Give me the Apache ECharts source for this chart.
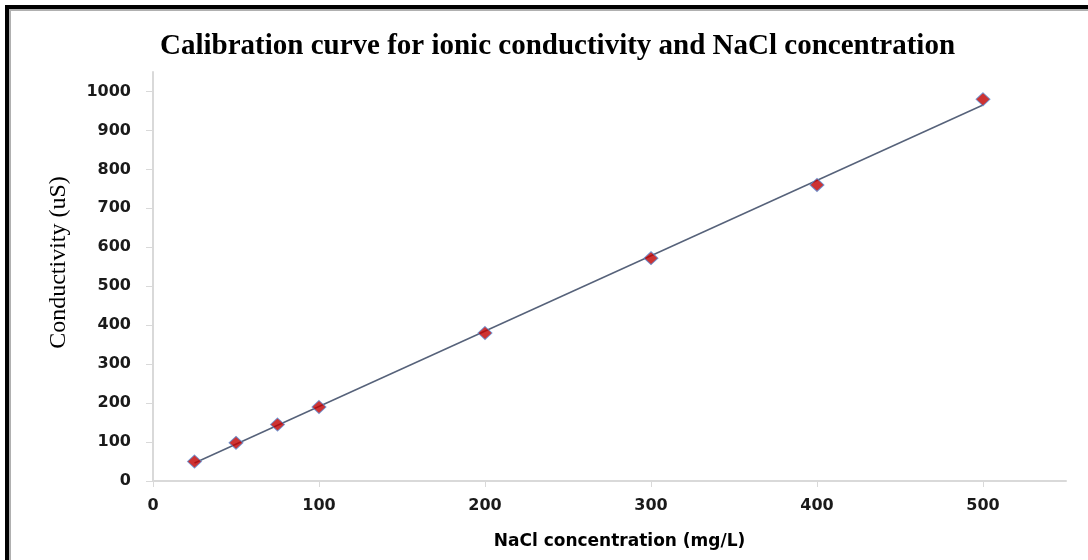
<!DOCTYPE html>
<html>
<head>
<meta charset="utf-8">
<script src="https://cdn.jsdelivr.net/npm/echarts@6/dist/echarts.min.js"></script>
<style>
html, body { margin: 0; padding: 0; background: #fff; }
#chart { width: 1088px; height: 560px; position: relative; }
#frame { position: absolute; left: 5px; top: 5px; width: 1200px; height: 700px;
  border-left: 4px solid #000; border-top: 4px solid #000;
  box-shadow: inset 2px 2px 0 #b0b0b0; pointer-events: none; z-index: 10; }
</style>
</head>
<body>
<div style="position:relative;width:1088px;height:560px;overflow:hidden;">
  <div id="chart"></div>
  <div id="frame"></div>
</div>
<script>
// ---- data ----
const titleText = 'Calibration curve for ionic conductivity and NaCl concentration';
const xAxisName = 'NaCl concentration (mg/L)';
const yAxisName = 'Conductivity (uS)';
const naclConc = [25, 50, 75, 100, 200, 300, 400, 500];
const conductivity = [50, 98, 145, 190, 380, 572, 760, 980];
const xTicks = [0, 100, 200, 300, 400, 500];
const yTicks = [0, 100, 200, 300, 400, 500, 600, 700, 800, 900, 1000];

// linear trendline (least squares over the data, like the spreadsheet trendline)
const n = naclConc.length;
const mx = naclConc.reduce((a, b) => a + b, 0) / n;
const my = conductivity.reduce((a, b) => a + b, 0) / n;
let sxy = 0, sxx = 0;
for (let i = 0; i < n; i++) {
  sxy += (naclConc[i] - mx) * (conductivity[i] - my);
  sxx += (naclConc[i] - mx) * (naclConc[i] - mx);
}
const slope = sxy / sxx;
const intercept = my - slope * mx;
const xFirst = Math.min(...naclConc), xLast = Math.max(...naclConc);
const trend = [[xFirst, intercept + slope * xFirst], [xLast, intercept + slope * xLast]];

const chart = echarts.init(document.getElementById('chart'), null, { renderer: 'canvas' });
const axisColor = '#d9d9d9';
const labelStyle = { fontFamily: 'DejaVu Sans', fontWeight: 'bold', fontSize: 16, color: '#1a1a1a',
  formatter: v => String(v) };

chart.setOption({
  animation: false,
  backgroundColor: '#fff',
  title: {
    text: titleText,
    left: 160,
    top: 32,
    padding: 0,
    textStyle: { fontFamily: 'Liberation Serif', fontWeight: 'bold', fontSize: 29, color: '#000' }
  },
  grid: { left: 153, right: 22, top: 72, bottom: 79, containLabel: false },
  xAxis: {
    type: 'value',
    min: 0, max: 550, interval: 100,
    name: xAxisName,
    nameLocation: 'middle',
    nameGap: 52,
    nameTextStyle: { fontFamily: 'DejaVu Sans', fontWeight: 'bold', fontSize: 17, color: '#000', padding: [0, 0, 0, 20] },
    axisLine: { show: true, lineStyle: { color: axisColor, width: 2 } },
    axisTick: { show: true, length: 6, lineStyle: { color: axisColor, width: 1 }, customValues: xTicks },
    axisLabel: { ...labelStyle, margin: 17, customValues: xTicks },
    splitLine: { show: false }
  },
  yAxis: {
    type: 'value',
    min: 0, max: 1050, interval: 100,
    name: yAxisName,
    nameLocation: 'middle',
    nameGap: 82,
    nameRotate: 90,
    nameTextStyle: { fontFamily: 'Liberation Serif', fontSize: 24, color: '#000', padding: [0, 0, 0, 28] },
    axisLine: { show: true, lineStyle: { color: axisColor, width: 2 } },
    axisTick: { show: true, length: 7, lineStyle: { color: axisColor, width: 1 }, customValues: yTicks },
    axisLabel: { ...labelStyle, margin: 22, customValues: yTicks },
    splitLine: { show: false }
  },
  series: [
    {
      type: 'line',
      data: trend,
      showSymbol: false,
      symbol: 'none',
      lineStyle: { color: '#56627a', width: 1.5 },
      z: 2,
      silent: true
    },
    {
      type: 'scatter',
      data: naclConc.map((x, i) => [x, conductivity[i]]),
      symbol: 'diamond',
      symbolSize: [14, 13],
      itemStyle: { color: '#c00000', borderColor: '#5b8fd6', borderWidth: 1 },
      z: 3
    }
  ]
});
</script>
</body>
</html>
